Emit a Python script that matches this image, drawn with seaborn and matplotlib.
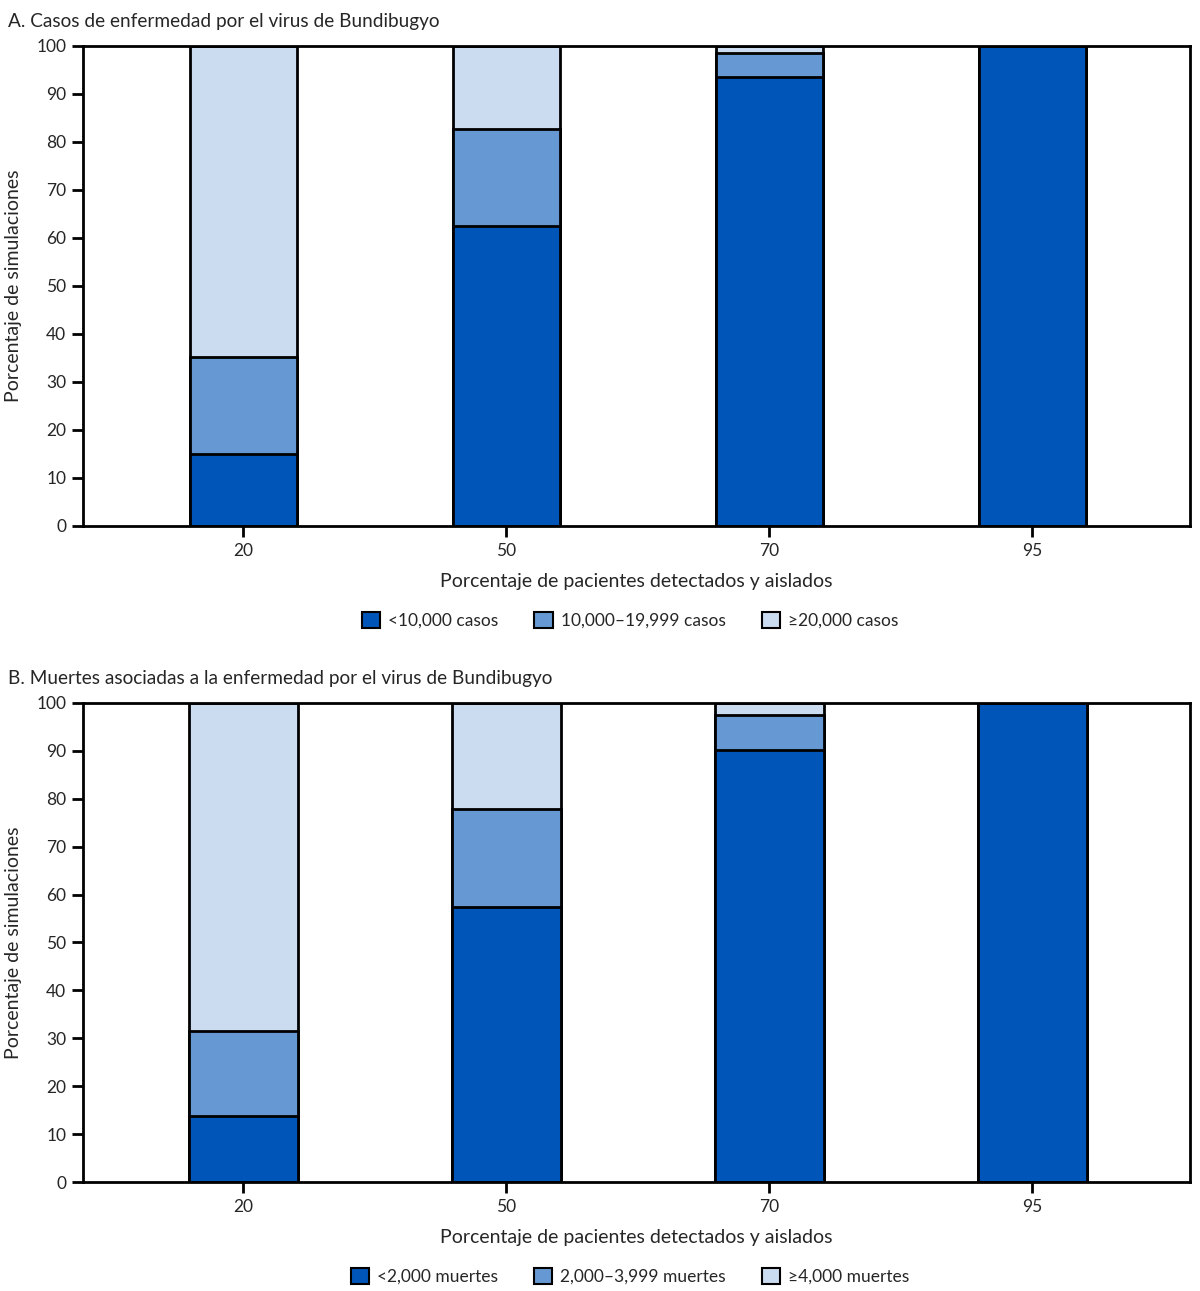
import numpy as np
import pandas as pd
import matplotlib
matplotlib.use("Agg")
import matplotlib.pyplot as plt
import seaborn as sns
from matplotlib.patches import Patch

sns.set_theme(style="white")
plt.rcParams['font.family'] = ['Lato', 'DejaVu Sans']

### data
detected = ["20", "50", "70", "95"]

cases_low = [15.0, 62.5, 93.6, 100.0]
cases_mid = [20.2, 20.2, 5.0, 0.0]
cases_high = [64.8, 17.3, 1.4, 0.0]
cases_labels = ["<10,000 casos", "10,000\u201319,999 casos", "\u226520,000 casos"]

deaths_low = [13.8, 57.4, 90.2, 100.0]
deaths_mid = [17.7, 20.5, 7.2, 0.0]
deaths_high = [68.5, 22.1, 2.6, 0.0]
deaths_labels = ["<2,000 muertes", "2,000\u20133,999 muertes", "\u22654,000 muertes"]

titles = ["A. Casos de enfermedad por el virus de Bundibugyo",
          "B. Muertes asociadas a la enfermedad por el virus de Bundibugyo"]

COLORS = ["#0055B8", "#6699D3", "#CBDBF0"]

fig = plt.figure(figsize=(12, 12.91), dpi=100)
axA = fig.add_axes([0.0692, 0.5926, 0.9225, 0.3718])
axB = fig.add_axes([0.0692, 0.0844, 0.9225, 0.3711])


def stacked(ax, low, mid, high, labels, title, legend_y, bar_w):
    df = pd.DataFrame({"x": detected,
                       "low": low,
                       "mid": np.array(low) + np.array(mid),
                       "high": np.array(low) + np.array(mid) + np.array(high)})
    ### draw tallest first so smaller stacks sit on top
    for col, c in zip(["high", "mid", "low"], COLORS[::-1]):
        sns.barplot(data=df, x="x", y=col, color=c, width=bar_w, edgecolor="black",
                    linewidth=2, saturation=1, ax=ax)
    ax.set_ylim(0, 100)
    ax.set_xlim(-0.61, 3.6)
    ax.set_yticks(range(0, 101, 10))
    ax.tick_params(axis="both", which="both", direction="out", length=8, width=2,
                   color="black", labelsize=12.5, left=True, bottom=True, pad=4)
    for s in ax.spines.values():
        s.set_visible(True)
        s.set_color("black")
        s.set_linewidth(2)
    ax.set_xlabel("Porcentaje de pacientes detectados y aislados", fontsize=14, labelpad=10)
    ax.set_ylabel("Porcentaje de simulaciones", fontsize=14, labelpad=10)
    pos = ax.get_position()
    fig.text(0.007, pos.y1 + 0.012, title, fontsize=13.7, ha="left", va="bottom")
    handles = [Patch(facecolor=c, edgecolor="black", linewidth=1.5) for c in COLORS]
    fig.legend(handles, labels, loc="center", bbox_to_anchor=(0.525, legend_y), ncol=3,
               frameon=False, fontsize=12.5, handlelength=1.05, handleheight=1.05,
               handletextpad=0.45, columnspacing=2.1)


stacked(axA, cases_low, cases_mid, cases_high, cases_labels, titles[0], 1 - 620 / 1291, 0.405)
stacked(axB, deaths_low, deaths_mid, deaths_high, deaths_labels, titles[1], 1 - 1276 / 1291, 0.415)

fig.savefig("out.png", dpi=100)
